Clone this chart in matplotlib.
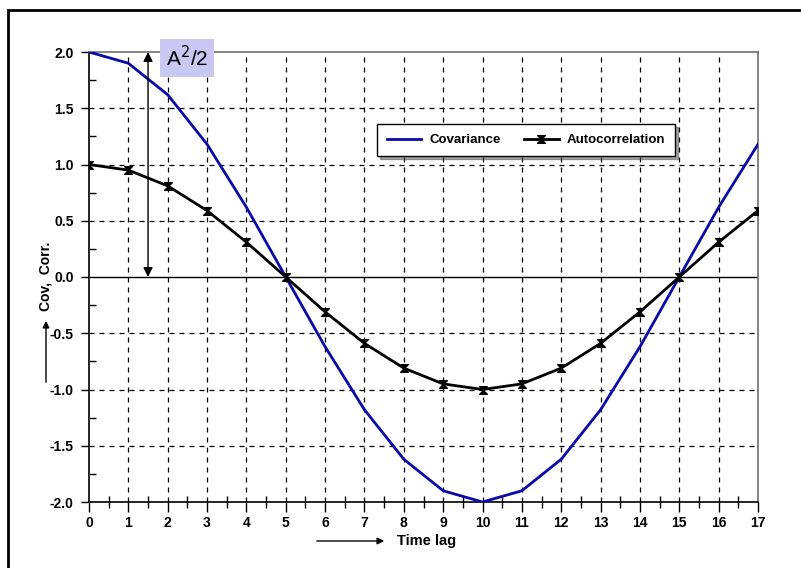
import matplotlib
matplotlib.use("Agg")
import matplotlib.pyplot as plt
from matplotlib.path import Path
from matplotlib.patches import Rectangle, FancyArrowPatch
from matplotlib.ticker import MultipleLocator

lags = list(range(18))
covariance = [2.0, 1.90, 1.62, 1.18, 0.62, 0.0, -0.62, -1.18, -1.62, -1.90,
              -2.0, -1.90, -1.62, -1.18, -0.62, 0.0, 0.62, 1.18]
autocorr = [1.0, 0.95, 0.81, 0.59, 0.31, 0.0, -0.31, -0.59, -0.81, -0.95,
            -1.0, -0.95, -0.81, -0.59, -0.31, 0.0, 0.31, 0.59]
xticks = list(range(18))
yticks = [-2.0, -1.5, -1.0, -0.5, 0.0, 0.5, 1.0, 1.5, 2.0]

plt.rcParams['font.family'] = ['Liberation Sans', 'DejaVu Sans']
REG = ['Liberation Sans', 'DejaVu Sans']

W, H = 801, 568
fig = plt.figure(figsize=(W / 100, H / 100), dpi=100)
ax = fig.add_axes([89 / W, 1 - 502 / H, (758 - 89) / W, (502 - 52) / H])

# outer frame
fig.patches.append(Rectangle((8 / W, -0.05), 1.1, 1 - 10 / H + 0.05,
                             transform=fig.transFigure, fill=False,
                             edgecolor='black', linewidth=2.0))

ax.set_xlim(0, 17)
ax.set_ylim(-2.0, 2.0)

# grid
for x in xticks[1:-1]:
    ax.plot([x, x], [-2, 2], color='black', lw=0.9, ls=(0, (4, 4)), zorder=1)
for y in yticks[1:-1]:
    if y == 0:
        ax.axhline(0, color='black', lw=1.0, zorder=1)
    else:
        ax.plot([0, 17], [y, y], color='black', lw=0.9, ls=(0, (4, 4)), zorder=1)

ax.plot(lags, covariance, color='#0a0aa8', lw=2.0, zorder=3, label='Covariance')

hourglass = Path([(-1, 1), (1, 1), (-1, -1), (1, -1), (-1, 1)],
                 [Path.MOVETO, Path.LINETO, Path.LINETO, Path.LINETO, Path.CLOSEPOLY])
ax.plot(lags, autocorr, color='black', lw=2.0, marker=hourglass, ms=5.5,
        zorder=4, label='Autocorrelation')

# spines
ax.spines['left'].set_color('black')
ax.spines['bottom'].set_color('black')
ax.spines['top'].set_color('#707070')
ax.spines['right'].set_color('#707070')
for s in ax.spines.values():
    s.set_linewidth(1.2)

ax.set_xticks(xticks)
ax.set_yticks(yticks)
ax.set_yticklabels([f"{v:.1f}" for v in yticks])
ax.xaxis.set_minor_locator(MultipleLocator(0.5))
ax.yaxis.set_minor_locator(MultipleLocator(0.25))
ax.tick_params(axis='x', which='major', direction='out', length=7, width=1,
               labelsize=10, pad=3)
ax.tick_params(axis='x', which='minor', direction='inout', length=8, width=1)
ax.tick_params(axis='y', which='major', direction='out', length=6, width=1,
               labelsize=10, pad=5)
ax.tick_params(axis='y', which='minor', direction='in', length=5, width=1)
for lab in ax.get_xticklabels() + ax.get_yticklabels():
    lab.set_fontweight('bold')

# A^2/2 annotation
ax.annotate('', xy=(1.5, 2.0), xytext=(1.5, 0.0),
            arrowprops=dict(arrowstyle='<|-|>', color='black', lw=1.0,
                            mutation_scale=14, shrinkA=0, shrinkB=0), zorder=5)
ax.text(2.49, 1.947, r'A$^2$/2', fontsize=15, ha='center', va='center', zorder=6,
        family=REG,
        bbox=dict(boxstyle='square,pad=0.3', facecolor='#c8c8f2',
                  edgecolor='none'), clip_on=False)

# legend
leg = ax.legend(loc='upper left', bbox_to_anchor=((377 - 89) / (758 - 89),
                (502 - 124) / 450), borderaxespad=0, ncol=2, frameon=True,
                fancybox=False, shadow=True, handlelength=2.6, borderpad=0.75,
                handletextpad=0.6, columnspacing=1.8,
                prop={'weight': 'bold', 'size': 9.5})
leg.get_frame().set_edgecolor('black')
leg.get_frame().set_linewidth(1.0)

# y label with arrow
fig.text(46 / W, 1 - 276 / H, 'Cov,  Corr.', rotation=90, ha='center',
         va='center', fontsize=10, fontweight='bold')
fig.patches.append(FancyArrowPatch((46 / W, 1 - 385 / H), (46 / W, 1 - 318 / H),
                                   transform=fig.transFigure,
                                   arrowstyle='-|>', mutation_scale=10,
                                   color='black', lw=1.0))

# x label with arrow
fig.text(397 / W, 1 - 541 / H, 'Time lag', ha='left', va='center',
         fontsize=10.5, fontweight='bold')
fig.patches.append(FancyArrowPatch((314 / W, 1 - 541 / H), (387 / W, 1 - 541 / H),
                                   transform=fig.transFigure,
                                   arrowstyle='-|>', mutation_scale=10,
                                   color='black', lw=1.0))

fig.savefig('out.png', dpi=100)
